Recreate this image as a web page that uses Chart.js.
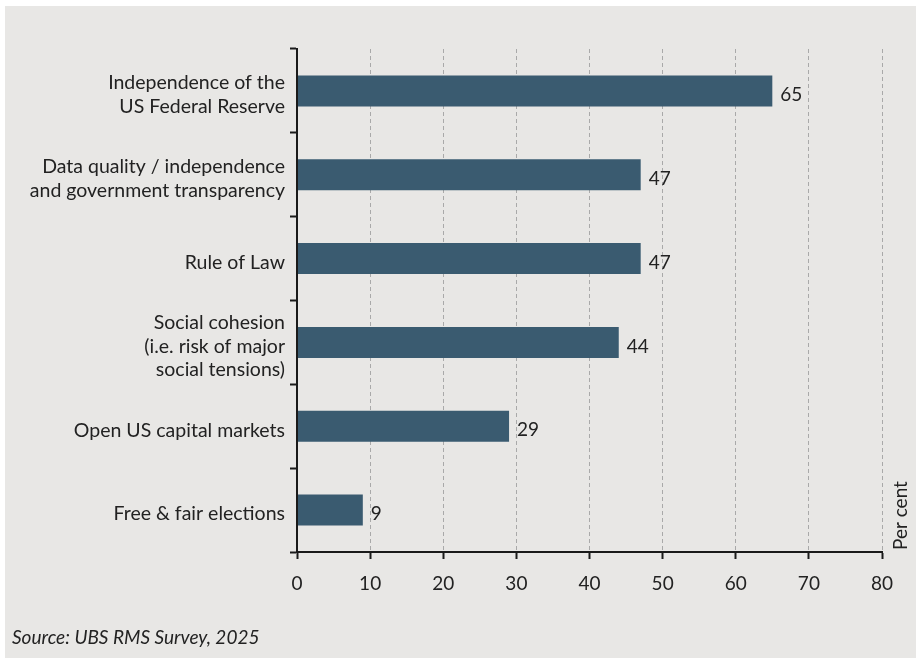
<!DOCTYPE html>
<html>
<head>
<meta charset="utf-8">
<script src="https://cdn.jsdelivr.net/npm/chart.js@4"></script>
<style>
  html, body { margin: 0; padding: 0; background: #ffffff; }
  #panel { position: absolute; left: 5px; top: 6px; width: 911px; height: 652px; background: #e8e7e5; }
  #chart { display: block; }
</style>
</head>
<body>
<div id="panel"><canvas id="chart" width="911" height="652"></canvas></div>
<script>
const categories = [
  ["Independence of the", "US Federal Reserve"],
  ["Data quality / independence", "and government transparency"],
  "Rule of Law",
  ["Social cohesion", "(i.e. risk of major", "social tensions)"],
  "Open US capital markets",
  "Free & fair elections"
];
const shares = [65, 47, 47, 44, 29, 9];
const xTicks = [0, 10, 20, 30, 40, 50, 60, 70, 80];

const FONT = "Lato, 'Open Sans', sans-serif";
const INK = '#222222';
const AXIS = '#1a1a1a';

// value labels next to each bar, plus the unit and source notes
const extras = {
  id: 'extras',
  afterDatasetsDraw(chart) {
    const ctx = chart.ctx;
    const meta = chart.getDatasetMeta(0);
    ctx.save();
    ctx.fillStyle = INK;
    ctx.font = '19px ' + FONT;
    ctx.textAlign = 'left';
    ctx.textBaseline = 'middle';
    meta.data.forEach((bar, i) => {
      ctx.fillText(String(shares[i]), bar.x + 8, bar.y + 4);
    });

    // unit label, rotated, at the right end of the x axis
    const area = chart.chartArea;
    ctx.save();
    ctx.translate(area.right + 19, area.bottom - 2);
    ctx.rotate(-Math.PI / 2);
    ctx.textAlign = 'left';
    ctx.fillText('Per cent', 0, 0);
    ctx.restore();

    ctx.font = 'italic 19px ' + FONT;
    ctx.textBaseline = 'alphabetic';
    ctx.fillText('Source: UBS RMS Survey, 2025', 7, 638);
    ctx.restore();
  }
};

new Chart(document.getElementById('chart'), {
  type: 'bar',
  data: {
    labels: categories,
    datasets: [{
      data: shares,
      backgroundColor: '#3a5b70',
      categoryPercentage: 1,
      barPercentage: 0.37
    }]
  },
  options: {
    indexAxis: 'y',
    responsive: false,
    animation: false,
    layout: { padding: { top: 43, right: 34, left: 0, bottom: 0 } },
    plugins: {
      legend: { display: false },
      tooltip: { enabled: false }
    },
    scales: {
      x: {
        min: 0,
        max: 80,
        afterBuildTicks: s => { s.ticks = xTicks.map(v => ({ value: v })); },
        afterFit: s => { s.height = 106; },
        border: { display: true, color: AXIS, width: 2, dash: [4, 3], z: 1 },
        grid: {
          color: c => c.index === 0 ? 'rgba(0,0,0,0)' : '#a9a9a9',
          lineWidth: 1,
          tickColor: AXIS,
          tickWidth: 2,
          tickLength: 7,
          tickBorderDash: []
        },
        ticks: { color: INK, font: { family: FONT, size: 19 }, padding: 13 }
      },
      y: {
        afterFit: s => { s.width = 292; },
        border: { display: true, color: AXIS, width: 2, z: 1 },
        grid: {
          drawOnChartArea: false,
          offset: true,
          tickColor: AXIS,
          tickWidth: 2,
          tickLength: 7
        },
        ticks: {
          color: INK,
          font: { family: FONT, size: 19.5, lineHeight: 1.2 },
          padding: 5,
          labelOffset: 4
        }
      }
    }
  },
  plugins: [extras]
});
</script>
</body>
</html>
